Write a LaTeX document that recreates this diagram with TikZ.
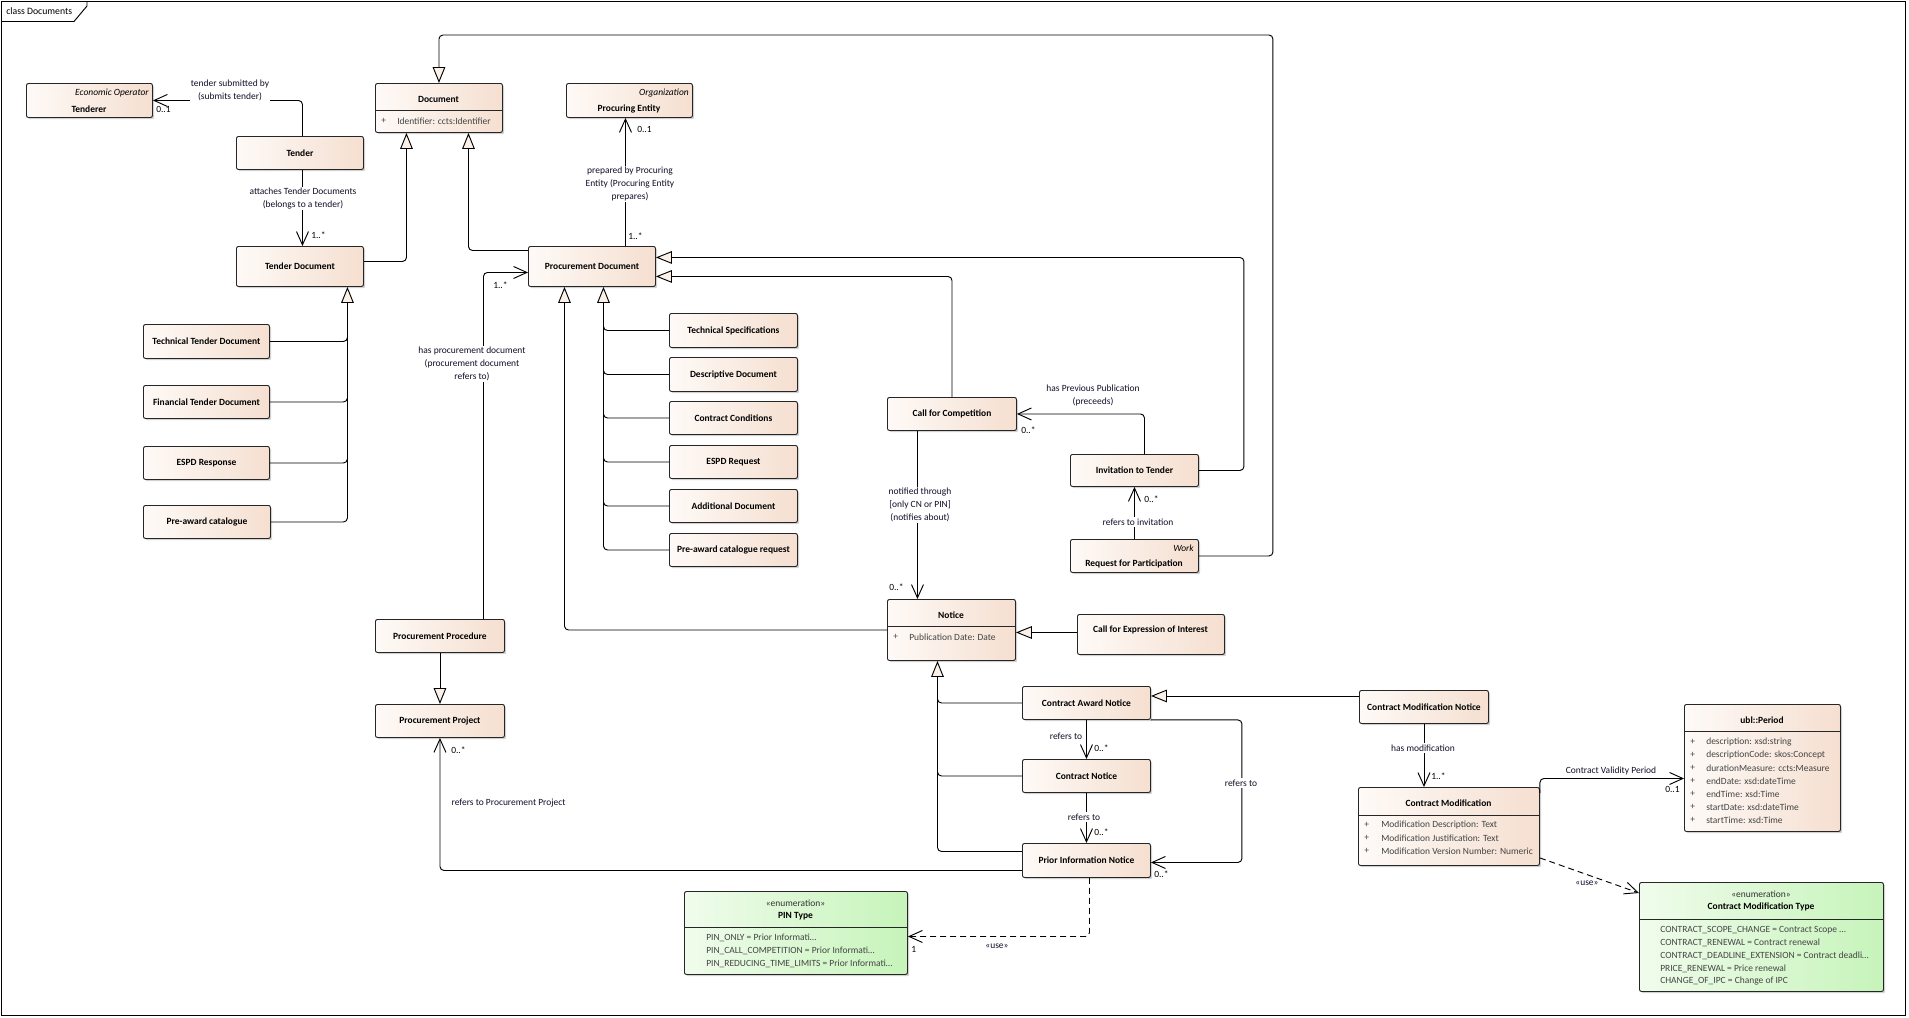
\documentclass[tikz,border=0pt]{standalone}
\usepackage{fontspec}
\setmainfont{Carlito}
\usetikzlibrary{arrows.meta,calc,shadows}
\definecolor{clsL}{HTML}{FEFAF7}
\definecolor{clsR}{HTML}{F5DFD0}
\definecolor{enL}{HTML}{F0FCEC}
\definecolor{enR}{HTML}{C6F4BA}
\definecolor{genfill}{HTML}{FBF1E8}
\definecolor{lblc}{HTML}{101028}
\definecolor{attc}{HTML}{444444}
\tikzset{
  cls/.style={draw=black!85, line width=0.7pt, rounded corners=1.5pt, left color=clsL, right color=clsR,
    drop shadow={shadow xshift=1.3pt, shadow yshift=-1.3pt, opacity=0.3, fill=black!60},
    font=\fontsize{7.1}{9}\selectfont\bfseries, inner sep=1pt, align=center},
  enm/.style={cls, left color=enL, right color=enR},
  nm/.style={font=\fontsize{7.1}{9}\selectfont\bfseries, inner sep=0pt},
  it/.style={font=\fontsize{7.1}{9}\selectfont\itshape, inner sep=0pt},
  attr/.style={font=\fontsize{7.1}{9}\selectfont, text=attc, inner sep=0pt, anchor=west},
  lbl/.style={font=\fontsize{7.1}{9.6}\selectfont, text=lblc, inner sep=1pt, align=center},
  lblw/.style={lbl, fill=white},
  mult/.style={font=\fontsize{7.1}{9}\selectfont, inner sep=0pt, anchor=west},
  conn/.style={line width=0.7pt, rounded corners=3pt},
  gen/.style={conn, -{Triangle[length=12pt,width=9.5pt,fill=genfill,line width=0.7pt]}},
  assoc/.style={conn, -{Straight Barb[length=10pt,width=9pt,line width=0.7pt]}},
  dep/.style={conn, dash pattern=on 4.5pt off 3pt, -{Straight Barb[length=10pt,width=9pt,line width=0.7pt]}},
  divl/.style={line width=0.7pt, draw=black!85}
}
\newcommand\umlcls[6]{\node[cls, anchor=north west, minimum width={(#4-#2)*0.75pt}, minimum height={(#5-#3)*0.75pt}] (#1) at (#2,#3) {#6};}
\newcommand\umlenum[5]{\node[enm, anchor=north west, minimum width={(#4-#2)*0.75pt}, minimum height={(#5-#3)*0.75pt}] (#1) at (#2,#3) {};}
\begin{document}
\begin{tikzpicture}[x=0.75pt,y=-0.75pt]
\useasboundingbox (0,0) rectangle (1909,1017);
% frame
\draw[line width=0.9pt] (1.5,1.5) rectangle (1905.5,1015.5);
\draw[line width=0.7pt] (1.5,21.5) -- (74,21.5) -- (87,6) -- (87,1.5);
\node[font=\fontsize{7.3}{9}\selectfont, anchor=west, inner sep=0pt] (title) at (6,11) {class Documents};

% classes
\umlcls{tenderer}{26}{83}{152}{117}{}
\umlcls{tender}{236}{136}{363}{169}{Tender}
\umlcls{tenderdoc}{236}{246}{363}{286}{Tender Document}
\umlcls{document}{375}{83}{502}{132}{}
\umlcls{procent}{566}{83}{692}{117}{}
\umlcls{procdoc}{528}{246}{655}{286}{Procurement Document}
\umlcls{ttd}{143}{324}{269}{358}{Technical Tender Document}
\umlcls{ftd}{143}{385}{269}{418}{Financial Tender Document}
\umlcls{espdresp}{143}{446}{269}{479}{ESPD Response}
\umlcls{precat}{143}{505}{270}{538}{Pre-award catalogue}
\umlcls{techspec}{669}{313}{797}{347}{Technical Specifications}
\umlcls{descdoc}{669}{357}{797}{391}{Descriptive Document}
\umlcls{contcond}{669}{401}{797}{434}{Contract Conditions}
\umlcls{espdreq}{669}{445}{797}{478}{ESPD Request}
\umlcls{adddoc}{669}{489}{797}{522}{Additional Document}
\umlcls{precatreq}{669}{533}{797}{566}{Pre-award catalogue request}
\umlcls{cfc}{887}{397}{1016}{430}{Call for Competition}
\umlcls{itt}{1070}{454}{1198}{486}{Invitation to Tender}
\umlcls{rfp}{1070}{539}{1198}{572}{}
\umlcls{notice}{887}{599}{1015}{660}{}
\umlcls{cfeoi}{1077}{614}{1224}{654}{}
\umlcls{can}{1022}{686}{1150}{719}{Contract Award Notice}
\umlcls{cn}{1022}{759}{1150}{792}{Contract Notice}
\umlcls{pin}{1022}{843}{1150}{877}{Prior Information Notice}
\umlcls{pproc}{375}{619}{504}{652}{Procurement Procedure}
\umlcls{pproj}{375}{704}{504}{737}{Procurement Project}
\umlcls{cmn}{1359}{690}{1488}{723}{Contract Modification Notice}
\umlcls{cm}{1358}{787}{1539}{865}{}
\umlcls{period}{1684}{704}{1840}{831}{}
\umlenum{pintype}{684}{891}{907}{974}
\umlenum{cmt}{1639}{882}{1883}{991}

% compartment dividers
\draw[divl] ($(document.north west)+(0,27)$) -- ($(document.north east)+(0,27)$);
\draw[divl] ($(notice.north west)+(0,27)$) -- ($(notice.north east)+(0,27)$);
\draw[divl] ($(cm.north west)+(0,28)$) -- ($(cm.north east)+(0,28)$);
\draw[divl] ($(period.north west)+(0,27)$) -- ($(period.north east)+(0,27)$);
\draw[divl] ($(pintype.north west)+(0,36)$) -- ($(pintype.north east)+(0,36)$);
\draw[divl] ($(cmt.north west)+(0,37)$) -- ($(cmt.north east)+(0,37)$);

% texts in boxes
\node[it, anchor=east] (t1) at (149,93) {Economic Operator};
\node[nm] (t2) at (89,109) {Tenderer};
\node[nm] (t3) at (438.5,99) {Document};
\node[attr] (a1) at (381,121) {+};
\node[attr] (a2) at (397,121) {Identifier: ccts:Identifier};
\node[it, anchor=east] (t4) at (689,93) {Organization};
\node[nm] (t5) at (629,109) {Procuring Entity};
\node[it, anchor=east] (t6) at (1194,548) {Work};
\node[nm] (t7) at (1134,564) {Request for Participation};
\node[nm] (t8) at (951,615) {Notice};
\node[attr] (a3) at (893,637) {+};
\node[attr] (a4) at (909,637) {Publication Date: Date};
\node[nm] (t9) at (1150.5,630) {Call for Expression of Interest};
\node[nm] (t10) at (1448.5,803) {Contract Modification};
\foreach \t [count=\i from 0] in {Modification Description: Text, Modification Justification: Text, Modification Version Number: Numeric}{
  \node[attr] (cmp\i) at (1364,825+13*\i) {+};
  \node[attr] (cma\i) at (1381,825+13*\i) {\t};
}
\node[nm] (t11) at (1762,720) {ubl::Period};
\foreach \t [count=\i from 0] in {description: xsd:string, descriptionCode: skos:Concept, durationMeasure: ccts:Measure, endDate: xsd:dateTime, endTime: xsd:Time, startDate: xsd:dateTime, startTime: xsd:Time}{
  \node[attr] (pp\i) at (1690,742+13*\i) {+};
  \node[attr] (pa\i) at (1706,742+13*\i) {\t};
}
\node[lbl, inner sep=0pt, text=black!80] (t12) at (795.5,903) {«enumeration»};
\node[nm] (t13) at (795.5,916) {PIN Type};
\node[attr] (pe0) at (706,938) {PIN\_ONLY = Prior Informati\dots};
\node[attr] (pe1) at (706,951) {PIN\_CALL\_COMPETITION = Prior Informati\dots};
\node[attr] (pe2) at (706,964) {PIN\_REDUCING\_TIME\_LIMITS = Prior Informati\dots};
\node[lbl, inner sep=0pt, text=black!80] (t14) at (1761,894) {«enumeration»};
\node[nm] (t15) at (1761,907) {Contract Modification Type};
\node[attr] (ce0) at (1660,930) {CONTRACT\_SCOPE\_CHANGE = Contract Scope \dots};
\node[attr] (ce1) at (1660,942.8) {CONTRACT\_RENEWAL = Contract renewal};
\node[attr] (ce2) at (1660,955.6) {CONTRACT\_DEADLINE\_EXTENSION = Contract deadli\dots};
\node[attr] (ce3) at (1660,968.4) {PRICE\_RENEWAL = Price renewal};
\node[attr] (ce4) at (1660,981.2) {CHANGE\_OF\_IPC = Change of IPC};

% generalizations (shared trunks)
\coordinate (tdtrunk) at ($(tenderdoc.south)+(47.5,0)$);
\draw[gen] (precat.east) -| (tdtrunk);
\foreach \b in {ttd,ftd,espdresp}{
  \draw[conn] (\b.east) -| ($(\b.east -| tdtrunk)+(0,-8)$);
}
\coordinate (pdtrunk) at ($(procdoc.south)+(11.5,0)$);
\draw[gen] (precatreq.west) -| (pdtrunk);
\foreach \b in {techspec,descdoc,contcond,espdreq,adddoc}{
  \draw[conn] (\b.west) -| ($(\b.west -| pdtrunk)+(0,-8)$);
}
\coordinate (ntrunk) at ($(notice.south)+(-14,0)$);
\draw[gen] ($(pin.west)+(0,-9)$) -| (ntrunk);
\foreach \b in {can,cn}{
  \draw[conn] (\b.west) -| ($(\b.west -| ntrunk)+(0,-8)$);
}
\draw[gen] (notice.west) -| ($(procdoc.south)+(-27.5,0)$);
\draw[gen] (cfc.north) |- ($(procdoc.east)+(0,10)$);
\draw[gen] (itt.east) -- ++(45,0) |- ($(procdoc.east)+(0,-9)$);
\draw[gen] (rfp.east) -- ++(74,0) |- ($(document.north)+(0,-48)$) -- (document.north);
\draw[gen] ($(tenderdoc.east)+(0,-5)$) -| ($(document.south)+(-32.5,0)$);
\draw[gen] ($(procdoc.west)+(0,-16)$) -| ($(document.south)+(29.5,0)$);
\coordinate (c1) at ($(cfeoi.west)+(0,-2)$);
\draw[gen] (c1) -- (c1 -| notice.east);
\coordinate (c2) at ($(cmn.west)+(0,-11)$);
\draw[gen] (c2) -- (c2 -| can.east);
\draw[gen] (pproc.south) -- (pproj.north);

% associations
\draw[assoc] ($(tender.north)+(2.5,0)$) |- (tenderer.east);
\draw[assoc] ($(tender.south)+(2.5,0)$) -- ($(tenderdoc.north)+(2.5,0)$);
\draw[assoc] ($(procdoc.north)+(33.5,0)$) -- ($(procent.south)+(-4,0)$);
\draw[assoc] ($(pproc.north)+(43.5,0)$) |- ($(procdoc.west)+(0,6)$);
\draw[assoc] ($(cfc.south)+(-34.5,0)$) -- ($(notice.north)+(-34,0)$);
\draw[assoc] ($(itt.north)+(10,0)$) |- (cfc.east);
\draw[assoc] (rfp.north) -- (itt.south);
\draw[assoc] (can.south) -- (cn.north);
\draw[assoc] (cn.south) -- (pin.north);
\draw[assoc] (can.south east) -- ++(91,0) |- ($(pin.east)+(0,2)$);
\draw[assoc] ($(pin.west)+(0,10)$) -| (pproj.south);
\draw[assoc] (cmn.south) -- (cmn.south |- cm.north);
\draw[assoc] ($(cm.north east)+(0,6)$) |- ($(period.west)+(0,10.5)$);
\draw[dep] ($(pin.south)+(3,0)$) |- ($(pintype.east)+(0,3.5)$);
\draw[dep] ($(cm.south east)+(0,-8)$) -- ($(cmt.north west)+(0,11)$);

% labels
\node[lblw] (l1) at (230,90.5) {tender submitted by\\(submits tender)};
\node[mult] (m1) at (156,109) {0..1};
\node[lblw] (l2) at (303,198.5) {attaches Tender Documents\\(belongs to a tender)};
\node[mult] (m2) at (311,235) {1..*};
\node[lblw] (l3) at (630,184) {prepared by Procuring\\Entity (Procuring Entity\\prepares)};
\node[mult] (m3) at (637,129) {0..1};
\node[mult] (m4) at (628,236) {1..*};
\node[lblw] (l4) at (472,364) {has procurement document\\(procurement document\\refers to)};
\node[mult] (m5) at (493,285) {1..*};
\node[lbl] (l5) at (1093,395.5) {has Previous Publication\\(preceeds)};
\node[mult] (m6) at (1021,430) {0..*};
\node[lblw] (l6) at (1138,522) {refers to invitation};
\node[mult] (m7) at (1144,499) {0..*};
\node[lblw] (l7) at (920,505) {notified through\\{[only CN or PIN]}\\(notifies about)};
\node[mult] (m8) at (889,587) {0..*};
\node[lbl] (l8) at (1066,736) {refers to};
\node[mult] (m9) at (1094,748) {0..*};
\node[lblw] (l9) at (1084,817) {refers to};
\node[mult] (m10) at (1094,832) {0..*};
\node[lblw] (l10) at (1241,783) {refers to};
\node[mult] (m11) at (1154,874) {0..*};
\node[mult] (m12) at (451,750) {0..*};
\node[lbl, anchor=west] (l11) at (450,803) {refers to Procurement Project};
\node[lblw] (l12) at (1423,748) {has modification};
\node[mult] (m13) at (1431,776) {1..*};
\node[lbl] (l13) at (1611,771) {Contract Validity Period};
\node[mult] (m14) at (1665,789) {0..1};
\node[lbl] (l14) at (1587,883) {«use»};
\node[mult] (m15) at (911,949) {1};
\node[lbl] (l15) at (997,946) {«use»};
\end{tikzpicture}
\end{document}
